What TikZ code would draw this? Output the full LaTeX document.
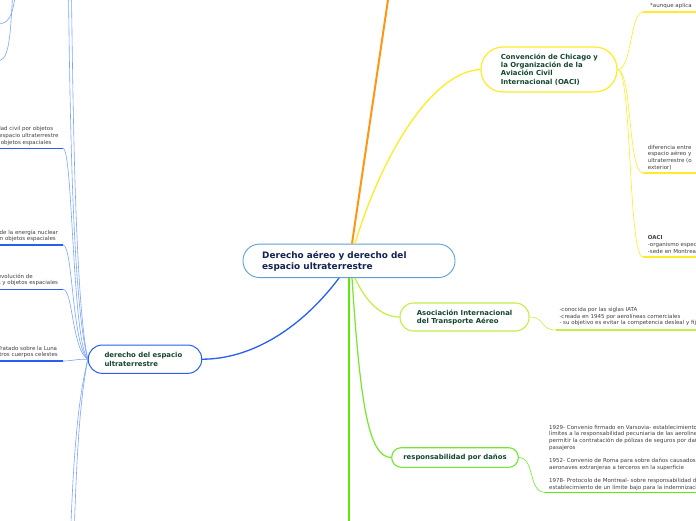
\documentclass[tikz,border=0pt]{standalone}
\usepackage{fontspec}
\setmainfont{DejaVu Sans}
\definecolor{cblue}{RGB}{40,95,240}
\definecolor{lblue}{RGB}{125,165,255}
\definecolor{cborder}{RGB}{95,160,215}
\definecolor{navy}{RGB}{20,35,80}
\definecolor{dgreen}{RGB}{20,70,45}
\definecolor{gtext}{RGB}{65,65,65}
\definecolor{cyellow}{RGB}{255,236,40}
\definecolor{corange}{RGB}{255,150,20}
\definecolor{clime}{RGB}{195,238,70}
\definecolor{cgreen}{RGB}{115,232,45}
\definecolor{bgreen}{RGB}{95,232,10}
\begin{document}
\begin{tikzpicture}[x=1pt,y=-1pt,
  box/.style={draw, fill=white, inner sep=0pt},
  hdr/.style={font=\fontsize{8.9}{11}\selectfont\bfseries, text=navy, inner sep=0pt, anchor=north west, align=left},
  sub/.style={font=\fontsize{6.9}{8.4}\selectfont\bfseries, text=dgreen, inner sep=0pt, anchor=north west, align=left},
  small/.style={font=\fontsize{5.5}{6.8}\selectfont, text=gtext, inner sep=0pt, anchor=north west, align=left},
  lsmall/.style={font=\fontsize{5.5}{6.8}\selectfont, text=gtext, inner sep=0pt, anchor=base east},
  thinline/.style={line width=0.6pt},
  uline/.style={line width=1.5pt},
]
\useasboundingbox (0,0) rectangle (696,520);
\fill[white] (0,0) rectangle (696,520);
\clip (0,0) rectangle (696,520);

% ---------- nodes ----------
\node[box, draw=cborder, line width=0.9pt, minimum width=212pt, minimum height=33.5pt, rounded corners=16.5pt] (root) at (349,260.8) {};
\node[hdr] (roott) at (262,251.1) {\rule{0pt}{7.1pt}Derecho aéreo y derecho del\\espacio ultraterrestre};

\node[box, draw=cyellow, line width=1.2pt, minimum width=136pt, minimum height=45pt, rounded corners=22pt] (oaci) at (549,69.5) {};
\node[sub] (oacit) at (500.7,53.4) {\rule{0pt}{5.5pt}Convención de Chicago y\\la Organización de la\\Aviación Civil\\Internacional (OACI)};

\node[box, draw=clime, line width=1.1pt, minimum width=129pt, minimum height=28pt, rounded corners=13.5pt] (iata) at (464.5,317) {};
\node[sub] (iatat) at (416.7,309.8) {\rule{0pt}{5.5pt}Asociación Internacional\\del Transporte Aéreo};

\node[box, draw=cgreen, line width=1.1pt, minimum width=126.6pt, minimum height=19.6pt, rounded corners=9.5pt, font=\fontsize{6.9}{8.4}\selectfont\bfseries, text=dgreen] (resp) at (455,457.5) {responsabilidad por daños};

\node[box, draw=cblue, line width=1pt, minimum width=113.4pt, minimum height=28.3pt, rounded corners=13.8pt] (esp) at (145,359.2) {};
\node[sub] (espt) at (104.3,352.1) {\rule{0pt}{5.5pt}derecho del espacio\\ultraterrestre};

% ---------- free ends ----------
\coordinate (otop) at (388.4,-3);
\coordinate (gbot) at (349,523);
\coordinate (u1) at (643,12);   \coordinate (u1e) at (700,12);
\coordinate (u2) at (643,173);  \coordinate (u2e) at (700,173);
\coordinate (u3) at (643,257);  \coordinate (u3e) at (700,257);
\coordinate (u4) at (556,330);  \coordinate (u4e) at (700,330);
\coordinate (u5) at (545,492.3);\coordinate (u5e) at (700,492.3);
\coordinate (l1) at (63,148.3); \coordinate (l1e) at (-3,148.3);
\coordinate (l2) at (63,245);   \coordinate (l2e) at (-3,245);
\coordinate (l3) at (63,289.3); \coordinate (l3e) at (-3,289.3);
\coordinate (l4) at (63,361);   \coordinate (l4e) at (-3,361);
\coordinate (tp1) at (68.5,-3); \coordinate (tp2) at (71.5,-3);
\coordinate (bt1) at (71,523);  \coordinate (bt2) at (74.5,523);
\coordinate (ta1) at (15,-3);   \coordinate (ta1e) at (-3,24);
\coordinate (ta2) at (12.5,-3); \coordinate (ta2e) at (-3,61);

% ---------- main connectors ----------
\draw[corange, line width=2pt] ([xshift=3pt]root.north) -- (otop);
\draw[cyellow, line width=1.3pt] ([xshift=6pt]root.north) .. controls (380,160) and (430,72) .. (oaci.west);
\draw[bgreen, line width=2pt] (root.south) -- (gbot);
\draw[clime, line width=1.2pt] ([xshift=6pt]root.south) .. controls (365,300) and (380,317) .. (iata.west);
\draw[cgreen, line width=1.2pt] ([xshift=3pt]root.south) .. controls (360,400) and (368,457.5) .. (resp.west);
\draw[cblue, line width=1.3pt] ([xshift=-10pt]root.south) .. controls (300,330) and (250,359.2) .. (esp.east);

% ---------- right branches ----------
\draw[cyellow, thinline] (oaci.east) .. controls (632,69.5) and (630,12) .. (u1);
\draw[cyellow, thinline] (oaci.east) .. controls (632,69.5) and (628,173) .. (u2);
\draw[cyellow, thinline] (oaci.east) .. controls (632,69.5) and (628,257) .. (u3);
\draw[cyellow, uline] (u1) -- (u1e);
\draw[cyellow, uline] (u2) -- (u2e);
\draw[cyellow, uline] (u3) -- (u3e);

\draw[clime, thinline] (iata.east) .. controls (545,317) and (540,330) .. (u4);
\draw[clime, uline] (u4) -- (u4e);
\draw[cgreen, thinline] (resp.east) .. controls (535,457.5) and (528,492.3) .. (u5);
\draw[bgreen, uline] (u5) -- (u5e);

% ---------- left branches ----------
\draw[lblue, thinline] (esp.west) .. controls (72,340) and (73,148.3) .. (l1);
\draw[lblue, thinline] (esp.west) .. controls (72,345) and (73,245) .. (l2);
\draw[lblue, thinline] (esp.west) .. controls (72,350) and (73,289.3) .. (l3);
\draw[lblue, thinline] (esp.west) .. controls (76,359) and (72,361) .. (l4);
\draw[lblue, thinline] (esp.west) .. controls (72,300) and (70,100) .. (tp1);
\draw[lblue, thinline] (esp.west) .. controls (75,300) and (73,100) .. (tp2);
\draw[lblue, thinline] (esp.west) .. controls (78,400) and (74,450) .. (bt1);
\draw[lblue, thinline] (esp.west) .. controls (80,400) and (77,450) .. (bt2);
\draw[cblue, uline] (l1) -- (l1e);
\draw[cblue, uline] (l2) -- (l2e);
\draw[cblue, uline] (l3) -- (l3e);
\draw[cblue, uline] (l4) -- (l4e);
\draw[lblue, thinline] (ta1) .. controls (12,18) and (8,24) .. (ta1e);
\draw[lblue, thinline] (ta2) .. controls (10,45) and (8,61) .. (ta2e);

% ---------- texts ----------
\node[lsmall, anchor=base west] (tx1) at (650,7.6) {*aunque aplica};
\node[small] (tx2) at (647.7,144.4) {\rule{0pt}{4.4pt}diferencia entre\\espacio aéreo y\\ultraterrestre (o\\exterior)};
\node[small, font=\fontsize{5.5}{7.2}\selectfont] (tx3) at (647.7,234.8) {\rule{0pt}{4.4pt}\textbf{OACI}\\-organismo especializado\\-sede en Montreal};
\node[small, font=\fontsize{5.5}{6.5}\selectfont] (tx4) at (559.3,307.1) {\rule{0pt}{4.4pt}-conocida por las siglas IATA\\-creada en 1945 por aerolíneas comerciales\\- su objetivo es evitar la competencia desleal y fijar tarifas};
\node[small, font=\fontsize{5.5}{6.7}\selectfont] (tx5) at (549,424.4) {\rule{0pt}{4.4pt}1929- Convenio firmado en Varsovia- establecimiento de\\límites a la responsabilidad pecuniaria de las aerolíneas y\\permitir la contratación de pólizas de seguros por daños a\\pasajeros\\[6.7pt]1952- Convenio de Roma para sobre daños causados por\\aeronaves extranjeras a terceros en la superficie\\[6.7pt]1978- Protocolo de Montreal- sobre responsabilidad del\\establecimiento de un límite bajo para la indemnización};

\node[lsmall] (lt1) at (53.3,130.5) {responsabilidad civil por objetos};
\node[lsmall] (lt2) at (58.7,137.8) {lanzados al espacio ultraterrestre};
\node[lsmall] (lt3) at (51.7,144.2) {de objetos espaciales};
\node[lsmall] (lt4) at (58.3,234.2) {utilización de la energía nuclear};
\node[lsmall] (lt5) at (56,240.5) {en objetos espaciales};
\node[lsmall] (lt6) at (33,278.8) {salvamento y devolución de};
\node[lsmall] (lt7) at (58.3,284.8) {astronautas y objetos espaciales};
\node[lsmall] (lt8) at (57.3,350.5) {Tratado sobre la Luna};
\node[lsmall] (lt9) at (58,356.5) {y otros cuerpos celestes};
\end{tikzpicture}
\end{document}
